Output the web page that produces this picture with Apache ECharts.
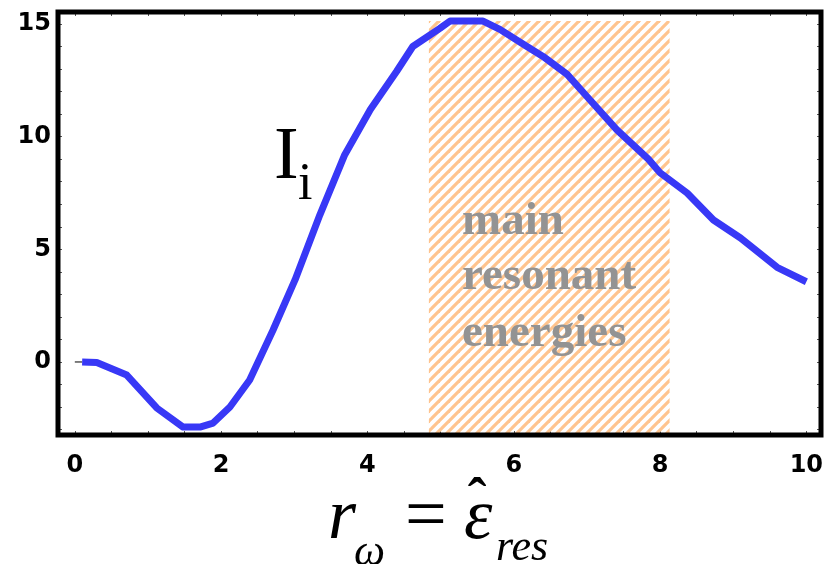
<!DOCTYPE html>
<html>
<head>
<meta charset="utf-8">
<script src="https://cdn.jsdelivr.net/npm/echarts@6/dist/echarts.min.js"></script>
<style>
  html, body { margin: 0; padding: 0; background: #fff; }
  #chart { width: 826px; height: 564px; }
</style>
</head>
<body>
<div id="chart"></div>
<script>
// I_i as a function of r_omega
const rOmega = [0.10, 0.30, 0.71, 1.12, 1.48, 1.71, 1.89, 2.12, 2.39, 2.71, 3.01, 3.35, 3.69, 4.04, 4.40, 4.62, 4.99, 5.13, 5.58, 5.81, 6.18, 6.40, 6.73, 7.00, 7.41, 7.84, 8.00, 8.37, 8.73, 9.10, 9.60, 10.00];
const intensity = [0.00, -0.02, -0.58, -2.04, -2.89, -2.89, -2.71, -2.00, -0.80, 1.42, 3.64, 6.53, 9.20, 11.20, 12.90, 14.00, 14.80, 15.13, 15.13, 14.76, 14.00, 13.56, 12.76, 11.78, 10.30, 9.00, 8.40, 7.50, 6.30, 5.50, 4.20, 3.56];

// band of main resonant energies
const bandX = [4.84, 8.13];
const bandY = [-3.24, 15.13];

// axis ranges and tick values
const xRange = [-0.23, 10.2];
const yRange = [-3.24, 15.53];
const xTickLabels = [0, 2, 4, 6, 8, 10];
const yTickLabels = [0, 5, 10, 15];
const xMinorTicks = [0, 0.5, 1, 1.5, 2, 2.5, 3, 3.5, 4, 4.5, 5, 5.5, 6, 6.5, 7, 7.5, 8, 8.5, 9, 9.5, 10];
const yMinorTicks = [-3, -2, -1, 0, 1, 2, 3, 4, 5, 6, 7, 8, 9, 10, 11, 12, 13, 14, 15];

// diagonal hatch tile
function hatchTile() {
  const c = document.createElement('canvas');
  c.width = 10; c.height = 10;
  const g = c.getContext('2d');
  g.strokeStyle = '#ffc48e';
  g.lineWidth = 3.2;
  [[-5, 5, 5, -5], [0, 10, 10, 0], [5, 15, 15, 5]].forEach(function (s) {
    g.beginPath(); g.moveTo(s[0], s[1]); g.lineTo(s[2], s[3]); g.stroke();
  });
  return c;
}

const chart = echarts.init(document.getElementById('chart'), null, { renderer: 'canvas' });

const tickFont = { fontFamily: 'DejaVu Sans', fontWeight: 'bold', fontSize: 24, color: '#000' };
const inTick = function (vals, len) {
  return { show: true, inside: true, length: len, customValues: vals, lineStyle: { color: '#555', width: 1 } };
};
const hiddenLine = { show: false, onZero: false };

function txt(x, y, s, size, opts) {
  return {
    type: 'text', x: x, y: y, z: 10,
    style: Object.assign({
      text: s, fontFamily: 'Liberation Serif', fontSize: size,
      fill: '#000', verticalAlign: 'middle'
    }, opts || {})
  };
}

chart.setOption({
  animation: false,
  backgroundColor: '#fff',
  grid: {
    left: 58, top: 12, right: 5, bottom: 129,
    show: true, borderColor: '#000', borderWidth: 5, backgroundColor: 'transparent',
    z: 5,
    outerBoundsMode: 'none'
  },
  xAxis: [{
    type: 'value', position: 'bottom', min: xRange[0], max: xRange[1],
    axisLine: hiddenLine, splitLine: { show: false },
    axisTick: inTick(xMinorTicks, 4),
    axisLabel: Object.assign({ customValues: xTickLabels, margin: 19 }, tickFont)
  }, {
    type: 'value', position: 'top', min: xRange[0], max: xRange[1],
    axisLine: hiddenLine, splitLine: { show: false },
    axisTick: inTick(xMinorTicks, 4), axisLabel: { show: false }
  }],
  yAxis: [{
    type: 'value', position: 'left', min: yRange[0], max: yRange[1],
    axisLine: hiddenLine, splitLine: { show: false },
    axisTick: inTick(yMinorTicks, 4),
    axisLabel: Object.assign({ customValues: yTickLabels, margin: 7 }, tickFont)
  }, {
    type: 'value', position: 'right', min: yRange[0], max: yRange[1],
    axisLine: hiddenLine, splitLine: { show: false },
    axisTick: inTick(yMinorTicks, 4), axisLabel: { show: false }
  }],
  series: [{
    type: 'line',
    data: rOmega.map(function (x, i) { return [x, intensity[i]]; }),
    symbol: 'none',
    smooth: false,
    lineStyle: { color: '#3838f6', width: 7, cap: 'butt', join: 'round' },
    z: 3,
    markArea: {
      silent: true,
      itemStyle: { color: { image: hatchTile(), repeat: 'repeat' } },
      data: [[{ xAxis: bandX[0], yAxis: bandY[0] }, { xAxis: bandX[1], yAxis: bandY[1] }]]
    }
  }, {
    type: 'line',
    data: [[0, intensity[0]], [rOmega[0], intensity[0]]],
    symbol: 'none',
    lineStyle: { color: '#000', width: 1 },
    z: 2
  }],
  graphic: [
    // band annotation
    txt(462, 222, 'main', 47, { fontWeight: 'bold', fill: '#939393' }),
    txt(462, 277, 'resonant', 47, { fontWeight: 'bold', fill: '#939393' }),
    txt(462, 334, 'energies', 47, { fontWeight: 'bold', fill: '#939393' }),
    // curve label I_i
    txt(274, 159, 'I', 74),
    txt(298, 185, 'i', 52),
    // x axis title  r_ω = ε̂_res
    txt(328, 519, 'r', 72, { fontStyle: 'italic' }),
    txt(354, 553, 'ω', 44, { fontStyle: 'italic' }),
    txt(405, 519, '=', 74),
    txt(464, 519, 'ε', 72, { fontStyle: 'italic' }),
    txt(477, 503, 'ˆ', 56, { fontWeight: 'bold', align: 'center' }),
    txt(496, 548, 'res', 44, { fontStyle: 'italic' })
  ]
});
</script>
</body>
</html>
